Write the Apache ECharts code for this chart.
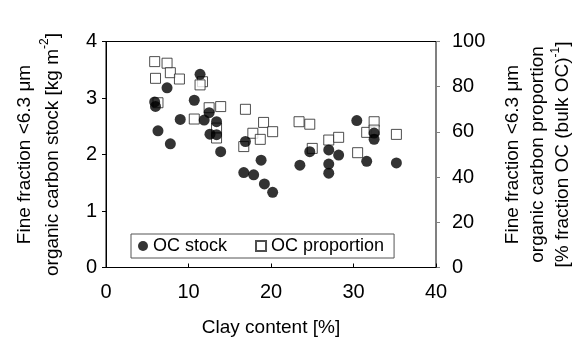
<!DOCTYPE html>
<html>
<head>
<meta charset="utf-8">
<script src="https://cdn.jsdelivr.net/npm/echarts@6/dist/echarts.min.js"></script>
<style>
  html, body { margin: 0; padding: 0; background: #fff; }
  #chart { width: 575px; height: 340px; }
</style>
</head>
<body>
<div id="chart"></div>
<script>
// clay content [%] and fine fraction OC stock [kg m-2]
var stockClay = [5.9, 6.0, 6.3, 7.4, 7.8, 9.0, 10.7, 11.4, 11.9, 12.5, 12.6, 13.4, 13.4, 13.9, 16.9, 18.8,
  16.7, 17.9, 19.2, 20.2, 23.5, 24.7, 27.0, 28.2, 27.0, 27.0, 30.4, 32.5, 32.5, 31.6, 35.2];
var stockValues = [2.93, 2.85, 2.42, 3.18, 2.19, 2.62, 2.96, 3.42, 2.61, 2.74, 2.36, 2.58, 2.35, 2.05, 2.23, 1.90,
  1.68, 1.64, 1.48, 1.33, 1.81, 2.05, 2.08, 1.99, 1.83, 1.67, 2.60, 2.38, 2.27, 1.88, 1.85];

// clay content [%] and fine fraction OC proportion [% of bulk OC]
var propClay = [5.9, 7.4, 7.8, 6.0, 8.9, 11.7, 11.4, 6.3, 12.5, 13.9, 10.7, 13.4, 13.4, 16.9, 19.1,
  20.2, 17.8, 18.7, 16.7, 23.4, 24.7, 25.0, 27.0, 28.2, 30.5, 32.5, 31.6, 32.5, 35.2];
var propValues = [91.1, 90.4, 86.2, 83.7, 83.4, 82.2, 80.8, 72.9, 70.7, 71.2, 65.7, 61.7, 57.3, 70.0, 64.2,
  60.1, 59.4, 56.7, 53.5, 64.5, 63.4, 52.7, 56.4, 57.6, 50.8, 64.5, 59.8, 60.8, 58.9];

var seriesNames = ["OC stock", "OC proportion"];
var font = "Liberation Sans, Arial, sans-serif";

function pairs(xs, ys) {
  return xs.map(function (x, i) { return [x, ys[i]]; });
}

var chart = echarts.init(document.getElementById("chart"), null, { renderer: "canvas" });

var option = {
  animation: false,
  textStyle: { fontFamily: font, color: "#000" },
  grid: {
    left: 106, right: 139, top: 41.5, bottom: 72.5,
    outerBoundsMode: "none",
    containLabel: false,
    show: true, borderColor: "#000", borderWidth: 1
  },
  legend: {
    data: seriesNames,
    left: 131, top: 234,
    padding: [3, 10, 3, 7],
    itemGap: 28,
    itemWidth: 10, itemHeight: 10,
    borderColor: "#555", borderWidth: 1,
    backgroundColor: "#fff",
    textStyle: { fontFamily: font, fontSize: 18, color: "#000" }
  },
  xAxis: {
    type: "value",
    min: 0, max: 40, interval: 10,
    name: "Clay content [%]",
    nameLocation: "middle",
    nameGap: 51,
    nameTextStyle: { fontSize: 19, color: "#000", fontFamily: font },
    axisLine: { lineStyle: { color: "#000", width: 1 } },
    axisTick: { inside: true, length: 4, lineStyle: { color: "#000" } },
    axisLabel: { fontSize: 20, color: "#000", margin: 15, fontFamily: font },
    splitLine: { show: false }
  },
  yAxis: [
    {
      type: "value",
      min: 0, max: 4, interval: 1,
      position: "left",
      name: "Fine fraction <6.3 μm\norganic carbon stock [kg m{s|-2}]",
      nameLocation: "middle",
      nameRotate: 90,
      nameGap: 39,
      nameTextStyle: {
        fontSize: 19, color: "#000", fontFamily: font, lineHeight: 28,
        rich: { s: { fontSize: 12, verticalAlign: "top", lineHeight: 28, fontFamily: font } }
      },
      axisLine: { show: true, lineStyle: { color: "#000", width: 1 } },
      axisTick: { show: true, length: 4, lineStyle: { color: "#000" } },
      axisLabel: { fontSize: 20, color: "#000", margin: 9, fontFamily: font },
      splitLine: { show: false }
    },
    {
      type: "value",
      min: 0, max: 100, interval: 20,
      position: "right",
      name: "Fine fraction <6.3 μm\norganic carbon proportion\n[% fraction OC (bulk OC){s|-1}]",
      nameLocation: "middle",
      nameRotate: 90,
      nameGap: 64,
      nameTextStyle: {
        fontSize: 19, color: "#000", fontFamily: font, lineHeight: 25,
        rich: { s: { fontSize: 12, verticalAlign: "top", lineHeight: 25, fontFamily: font } }
      },
      axisLine: { show: true, lineStyle: { color: "#808080", width: 1 } },
      axisTick: { show: true, length: 4, lineStyle: { color: "#808080" } },
      axisLabel: { fontSize: 20, color: "#000", margin: 16, fontFamily: font },
      splitLine: { show: false }
    }
  ],
  series: [
    {
      name: seriesNames[1],
      type: "scatter",
      yAxisIndex: 1,
      symbol: "rect",
      symbolSize: 10,
      itemStyle: { color: "#fff", borderColor: "#222", borderWidth: 1 },
      data: pairs(propClay, propValues)
    },
    {
      name: seriesNames[0],
      type: "scatter",
      yAxisIndex: 0,
      symbol: "circle",
      symbolSize: 11,
      itemStyle: { color: "#000" },
      data: pairs(stockClay, stockValues)
    }
  ]
};

chart.setOption(option);
</script>
</body>
</html>
